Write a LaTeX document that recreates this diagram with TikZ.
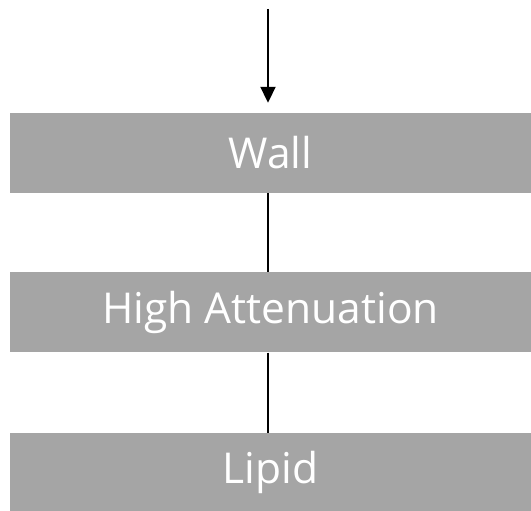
\documentclass[tikz,border=0pt]{standalone}
\usepackage{fontspec}
\setmainfont{Open Sans}
\usetikzlibrary{positioning, arrows.meta}
\definecolor{boxgray}{RGB}{165, 165, 165}

\begin{document}
\begin{tikzpicture}[x=1pt, y=1pt, >={Triangle[length=16pt, width=15pt]},
    layerbox/.style={fill=boxgray, text=white, minimum width=521pt, minimum height=80pt,
                     inner sep=0pt, font=\fontsize{42.5}{50}\selectfont},
    link/.style={line width=2pt, black}]
  \useasboundingbox (0,0) rectangle (531,511);
  % Layers
  \node[layerbox] (wall) at (270.5,358) {Wall};
  \node[layerbox, below=79pt of wall] (high) {High Attenuation};
  \node[layerbox, below=80pt of high] (lipid) {Lipid};
  % Incoming arrow
  \coordinate (src) at (268,502);
  \draw[->, link] (src) -- ([yshift=10pt]src |- wall.north);
  \draw[link] (src |- wall.south) -- (src |- high.north);
  \draw[link] (src |- high.south) -- (src |- lipid.north);
\end{tikzpicture}
\end{document}
